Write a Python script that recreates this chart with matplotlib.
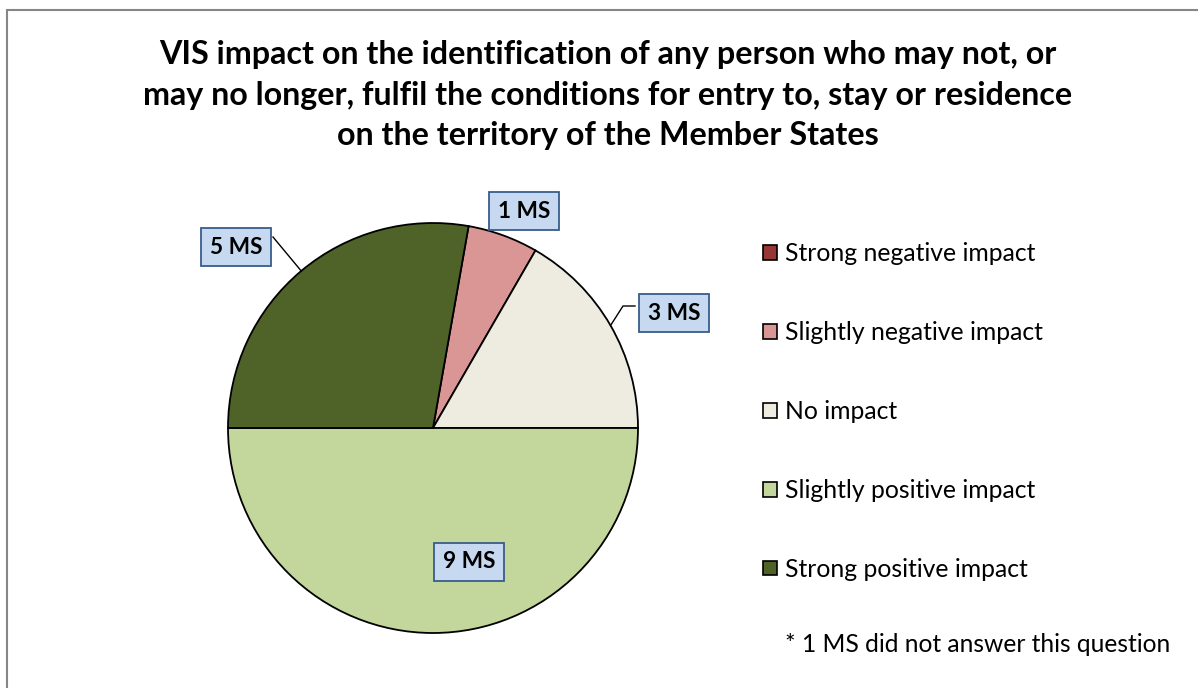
import matplotlib.pyplot as plt
from matplotlib.patches import Rectangle
import numpy as np

# chart data
categories = ["Strong negative impact", "Slightly negative impact", "No impact",
              "Slightly positive impact", "Strong positive impact"]
counts = [0, 1, 3, 9, 5]
colors = ["#953735", "#D99694", "#EEECE1", "#C3D69B", "#4F6228"]
title = ("VIS impact on the identification of any person who may not, or\n"
         "may no longer, fulfil the conditions for entry to, stay or residence\n"
         "on the territory of the Member States")
footnote = "* 1 MS did not answer this question"

W, H = 1198, 688
plt.rcParams['font.family'] = ['Lato', 'DejaVu Sans']

fig = plt.figure(figsize=(W / 100, H / 100), dpi=100)

def fx(px):
    return px / W

def fy(py):
    return 1 - py / H

# outer chart border (cut off at the right and bottom)
fig.patches.append(Rectangle((fx(7), fy(H + 20)), 1.2, fy(10) - fy(H + 20),
                             transform=fig.transFigure, fill=False,
                             edgecolor="#868686", linewidth=1.5))

fig.text(fx(608), fy(95), title, ha="center", va="center", fontsize=23.2,
         fontweight="bold", linespacing=1.48)

# pie area: centre (433, 428), radius 205 px
cx, cy, r = 433, 428, 205
ax = fig.add_axes([fx(cx - r), fy(cy + r), 2 * r / W, 2 * r / H])
wedges, _ = ax.pie(counts, colors=colors, startangle=80, counterclock=False,
                   radius=1, wedgeprops=dict(edgecolor="black", linewidth=1.3))
ax.set_xlim(-1, 1)
ax.set_ylim(-1, 1)
ax.set_aspect("equal")
ax.axis("off")

# data labels: label box centre in px for each slice
label_pos = {1: (524, 211), 2: (674, 313), 3: (469, 562), 4: (236, 247)}
box = dict(boxstyle="square,pad=0.38", facecolor="#C6D9F1", edgecolor="#385D8A",
           linewidth=1.3)
for i, (px, py) in label_pos.items():
    if counts[i] == 0:
        continue
    fig.text(fx(px), fy(py), f"{counts[i]} MS", ha="center", va="center",
             fontsize=16.3, fontweight="bold", bbox=box)

# leader lines to the middle of the wedge edge
def edge_point(w):
    mid = np.deg2rad((w.theta1 + w.theta2) / 2)
    return np.cos(mid), np.sin(mid)

def to_data(px, py):
    return ax.transData.inverted().transform(
        fig.transFigure.transform((fx(px), fy(py))))

ex, ey = edge_point(wedges[4])
sx, sy = to_data(273, 237)
ax.plot([sx, ex], [sy, ey], color="black", linewidth=1, clip_on=False)

ex, ey = edge_point(wedges[2])
sx, sy = to_data(635, 306)
kx, ky = to_data(623, 306)
ax.plot([sx, kx, ex], [sy, ky, ey], color="black", linewidth=1, clip_on=False)

leg = fig.legend(wedges, categories, loc="upper left",
                 bbox_to_anchor=(fx(741), fy(220)), frameon=False, fontsize=17.8,
                 labelspacing=2.26, handlelength=0.55, handleheight=0.55,
                 handletextpad=0.33)
for h in leg.legend_handles:
    h.set_edgecolor("black")
    h.set_linewidth(1.2)

fig.text(fx(785), fy(645), footnote, ha="left", va="center", fontsize=17.7)

fig.savefig("out.png", dpi=100)
